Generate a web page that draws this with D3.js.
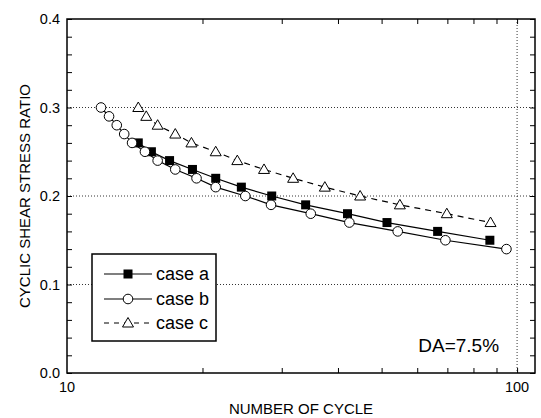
<!DOCTYPE html>
<html>
<head>
<meta charset="utf-8">
<script src="https://cdn.jsdelivr.net/npm/d3@7"></script>
<style>
  html, body { margin: 0; padding: 0; background: #fff; }
  svg text { font-family: "Liberation Sans", Arial, sans-serif; fill: #000; }
</style>
</head>
<body>
<svg id="chart" width="541" height="418"></svg>
<script>
// Number of cycles to reach DA = 7.5% for each cyclic shear stress ratio
const caseA_N = [14.4, 15.4, 16.9, 19.0, 21.4, 24.4, 28.5, 33.9, 42.0, 51.4, 66.6, 87.0];
const caseA_R = [0.26, 0.25, 0.24, 0.23, 0.22, 0.21, 0.20, 0.19, 0.18, 0.17, 0.16, 0.15];

const caseB_N = [11.9, 12.4, 12.9, 13.4, 13.95, 14.9, 15.9, 17.4, 19.4, 21.4, 24.9, 28.4, 34.8, 42.4, 54.3, 69.3, 94.7];
const caseB_R = [0.30, 0.29, 0.28, 0.27, 0.26, 0.25, 0.24, 0.23, 0.22, 0.21, 0.20, 0.19, 0.18, 0.17, 0.16, 0.15, 0.14];

const caseC_N = [14.4, 15.0, 15.9, 17.4, 18.9, 21.4, 23.9, 27.4, 31.8, 37.4, 44.8, 54.9, 69.8, 87.3];
const caseC_R = [0.30, 0.29, 0.28, 0.27, 0.26, 0.25, 0.24, 0.23, 0.22, 0.21, 0.20, 0.19, 0.18, 0.17];

const seriesNames = ["case a", "case b", "case c"];
const xTickLabels = [10, 100];
const yTickLabels = [0.0, 0.1, 0.2, 0.3, 0.4];

const svg = d3.select("#chart");
const L = 67, R = 535, T = 19, B = 373;

const x = d3.scaleLog().domain([10, 109.6]).range([L, R]);
const y = d3.scaleLinear().domain([0, 0.4]).range([B, T]);

const series = [
  { name: seriesNames[0], N: caseA_N, r: caseA_R, marker: "square", dash: null },
  { name: seriesNames[1], N: caseB_N, r: caseB_R, marker: "circle", dash: null },
  { name: seriesNames[2], N: caseC_N, r: caseC_R, marker: "triangle", dash: "6,5" }
];

// dotted grid lines
const grid = svg.append("g").attr("stroke", "#000").attr("stroke-width", 0.8)
  .attr("stroke-dasharray", "1,2");
[0.1, 0.2, 0.3].forEach(v => {
  grid.append("line").attr("x1", L).attr("x2", R).attr("y1", y(v)).attr("y2", y(v));
});
grid.append("line").attr("x1", x(100)).attr("x2", x(100)).attr("y1", T).attr("y2", B);

// axes with inward ticks on all four sides
const xMinor = d3.range(20, 100, 10).concat([100]);
const yMinor = d3.range(0, 0.4001, 0.02);
const tickLen = 5;

const axBottom = svg.append("g").attr("transform", `translate(0,${B})`)
  .call(d3.axisBottom(x).tickValues(xMinor).tickSize(-tickLen).tickFormat(""));
const axTop = svg.append("g").attr("transform", `translate(0,${T})`)
  .call(d3.axisTop(x).tickValues(xMinor).tickSize(-tickLen).tickFormat(""));
const axLeft = svg.append("g").attr("transform", `translate(${L},0)`)
  .call(d3.axisLeft(y).tickValues(yMinor).tickSize(-tickLen).tickFormat(""));
const axRight = svg.append("g").attr("transform", `translate(${R},0)`)
  .call(d3.axisRight(y).tickValues(yMinor).tickSize(-tickLen).tickFormat(""));
[axBottom, axTop, axLeft, axRight].forEach(g => {
  g.select(".domain").remove();
  g.selectAll(".tick line").attr("stroke", "#000").attr("stroke-width", 1);
});

// tick labels
svg.append("g").selectAll("text").data(xTickLabels).join("text")
  .attr("x", d => x(d)).attr("y", B + 19)
  .attr("text-anchor", "middle").attr("font-size", 14.5)
  .text(d => d);
svg.append("g").selectAll("text").data(yTickLabels).join("text")
  .attr("x", L - 7).attr("y", d => y(d) + 5)
  .attr("text-anchor", "end").attr("font-size", 14.5)
  .text(d => d3.format(".1f")(d));

// frame
svg.append("rect").attr("x", L).attr("y", T).attr("width", R - L).attr("height", B - T)
  .attr("fill", "none").attr("stroke", "#000").attr("stroke-width", 1.5);

// axis titles
svg.append("text").attr("x", (L + R) / 2).attr("y", 414)
  .attr("text-anchor", "middle").attr("font-size", 15).text("NUMBER OF CYCLE");
svg.append("text").attr("transform", `translate(30,${(T + B) / 2}) rotate(-90)`)
  .attr("text-anchor", "middle").attr("font-size", 15).text("CYCLIC SHEAR STRESS RATIO");

// marker drawing
function drawMarker(g, type, cx, cy) {
  if (type === "square") {
    g.append("rect").attr("x", cx - 4.5).attr("y", cy - 4.5).attr("width", 9).attr("height", 9)
      .attr("fill", "#000");
  } else if (type === "circle") {
    g.append("circle").attr("cx", cx).attr("cy", cy).attr("r", 4.8)
      .attr("fill", "#fff").attr("stroke", "#000").attr("stroke-width", 1);
  } else {
    g.append("path")
      .attr("d", `M${cx},${cy - 5.5}L${cx + 5.5},${cy + 4}L${cx - 5.5},${cy + 4}Z`)
      .attr("fill", "#fff").attr("stroke", "#000").attr("stroke-width", 1);
  }
}

const line = d3.line().x(d => x(d[0])).y(d => y(d[1]));
series.forEach(s => {
  const pts = s.N.map((n, i) => [n, s.r[i]]);
  const g = svg.append("g");
  g.append("path").datum(pts).attr("d", line)
    .attr("fill", "none").attr("stroke", "#000").attr("stroke-width", 1.2)
    .attr("stroke-dasharray", s.dash);
  pts.forEach(p => drawMarker(g, s.marker, x(p[0]), y(p[1])));
});

// legend
const lg = svg.append("g");
lg.append("rect").attr("x", 92).attr("y", 254).attr("width", 124).attr("height", 87)
  .attr("fill", "#fff").attr("stroke", "#000").attr("stroke-width", 1.5);
const rowY = [274, 299, 323];
series.forEach((s, i) => {
  const yy = rowY[i];
  lg.append("line").attr("x1", 104).attr("x2", 152).attr("y1", yy).attr("y2", yy)
    .attr("stroke", "#000").attr("stroke-width", 1.2)
    .attr("stroke-dasharray", s.dash ? "5,5" : null);
  drawMarker(lg, s.marker, 128, yy);
  lg.append("text").attr("x", 156).attr("y", yy + 6).attr("font-size", 18).text(s.name);
});

// annotation
svg.append("text").attr("x", x(100) - 18).attr("y", 352).attr("text-anchor", "end")
  .attr("font-size", 19).text("DA=7.5%");
</script>
</body>
</html>
